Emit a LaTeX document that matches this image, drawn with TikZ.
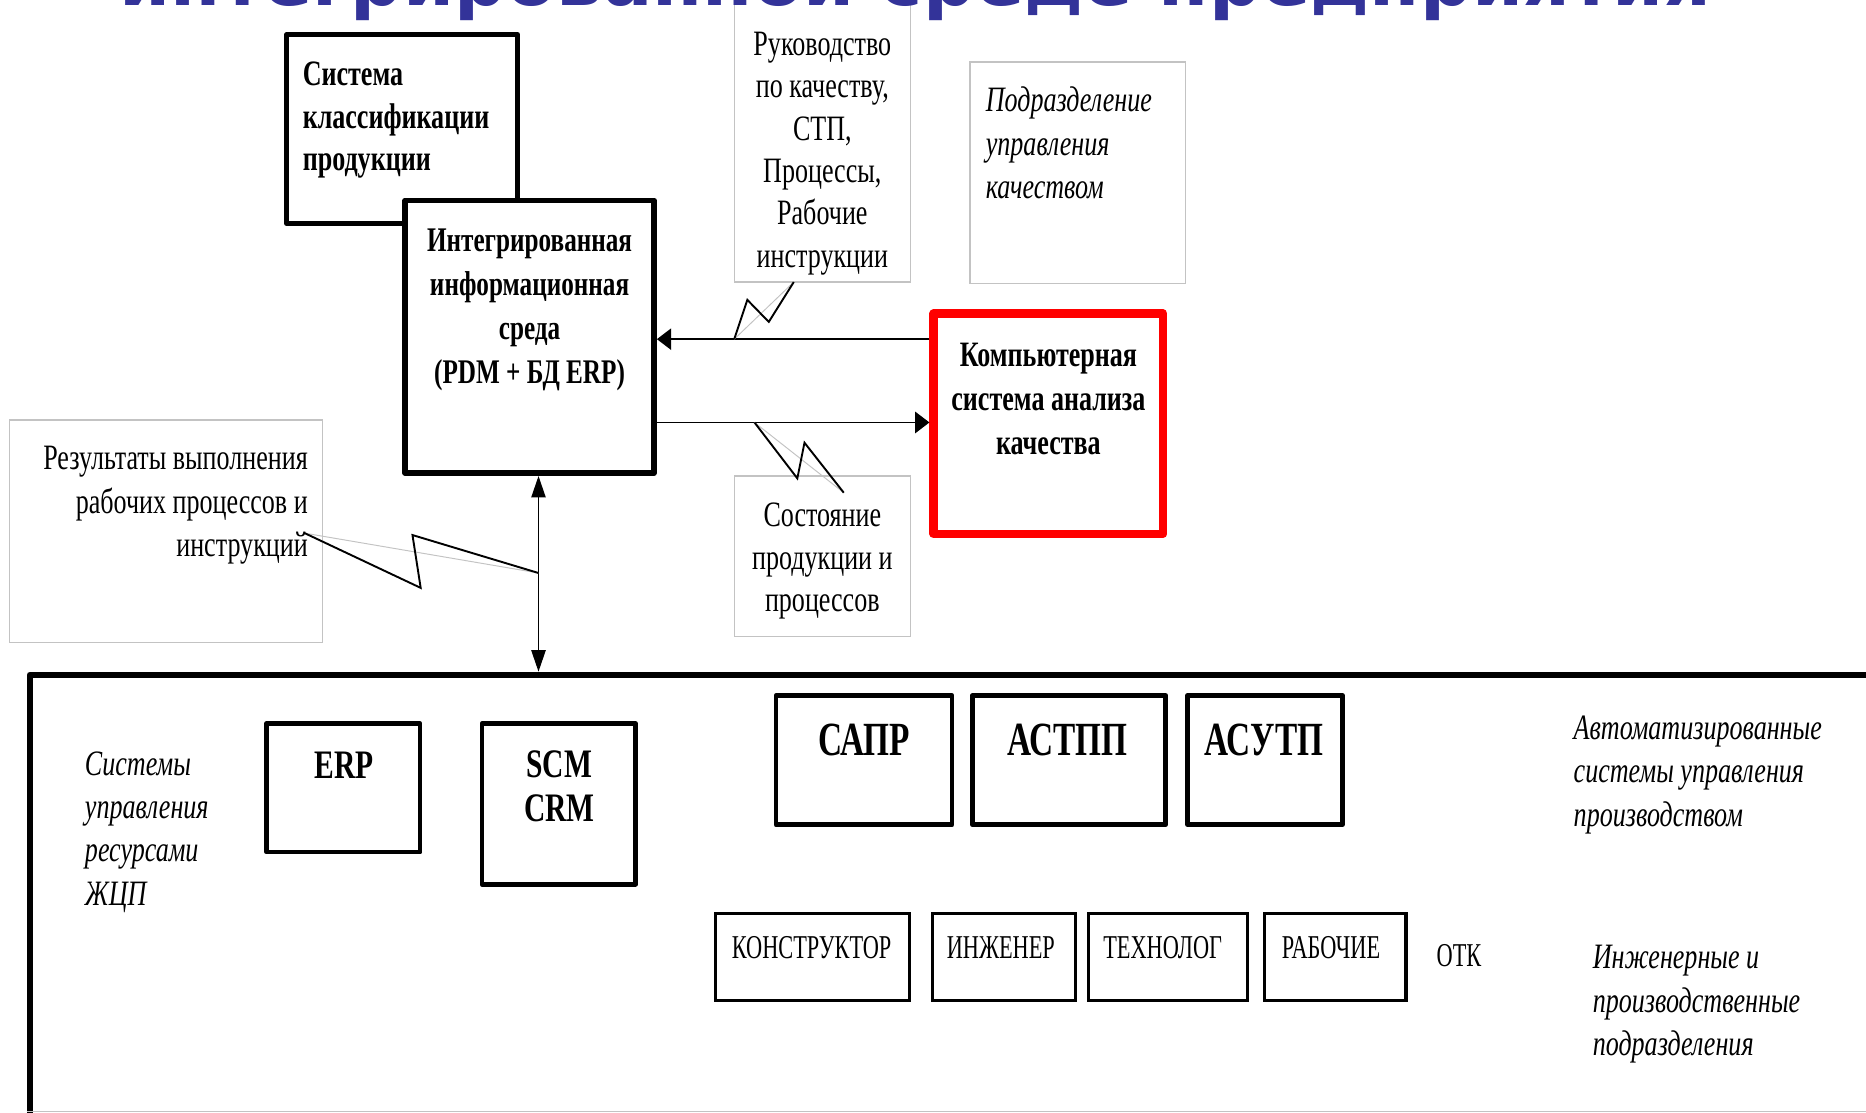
\documentclass[tikz,border=0pt]{standalone}
\usepackage{fontspec}
\setmainfont{Liberation Serif}
\newfontfamily\fR[FakeStretch=0.73]{Liberation Serif}
\newfontfamily\fC[FakeStretch=0.67]{Liberation Serif}
\newfontfamily\fB[FakeStretch=0.70]{Liberation Serif}
\newfontfamily\fT{DejaVu Sans}
\usetikzlibrary{arrows.meta}
\definecolor{titleblue}{RGB}{51,51,153}
\definecolor{lgray}{RGB}{195,195,195}
\definecolor{qred}{RGB}{255,0,0}
\tikzset{
  box/.style={draw=black, fill=white, line width=2pt, inner sep=0pt, line join=round},
  gbox/.style={draw=lgray, fill=white, line width=0.6pt, inner sep=0pt},
  sbox/.style={draw=black, fill=white, line width=1.4pt, inner sep=0pt},
  txt/.style={inner sep=0pt, font=\fR\fontsize{15pt}{18pt}\selectfont},
  btxt/.style={inner sep=0pt, font=\fR\bfseries\fontsize{15pt}{18.5pt}\selectfont},
  itxt/.style={inner sep=0pt, font=\fR\itshape\fontsize{15pt}{18.2pt}\selectfont},
  ctxt/.style={inner sep=0pt, font=\fC\fontsize{14pt}{16pt}\selectfont},
  bigtxt/.style={inner sep=0pt, font=\fB\bfseries\fontsize{20pt}{22pt}\selectfont},
  conn/.style={draw=black, line width=0.6pt},
  bolt/.style={draw=black, line width=0.8pt, line join=miter},
  boltbase/.style={draw=lgray, line width=0.4pt},
  htip/.style={-{Triangle[length=6pt,width=9pt]}},
  vtips/.style={{Triangle[length=9pt,width=6pt]}-{Triangle[length=9pt,width=6pt]}},
}
\begin{document}
\begin{tikzpicture}[x=0.5pt,y=-0.5pt]
\useasboundingbox (0,0) rectangle (1568,935);
\clip (0,0) rectangle (1568,935);
\fill[white] (0,0) rectangle (1568,935);

% big frame
\node[box, line width=2.6pt, minimum width=797.5pt, minimum height=211.5pt] (big) at (822.5,778.5) {};
\draw[draw=lgray, line width=0.6pt] (big.west |- 0,934) -- (1568,934);

% top boxes
\node[box, minimum width=97pt, minimum height=79.5pt] (sys) at (338,108.5) {};
\node[box, line width=2.5pt, minimum width=104.5pt, minimum height=114.5pt] (ies) at (445,283) {};
\node[gbox, minimum width=74pt, minimum height=128.5pt] (ruk) at (691,108.5) {};
\node[gbox, minimum width=90.5pt, minimum height=93pt] (pod) at (905.5,145) {};
\node[box, draw=qred, line width=3.5pt, minimum width=96.5pt, minimum height=92.5pt] (kom) at (881,356) {};
\node[gbox, minimum width=74pt, minimum height=67.5pt] (sos) at (691,467.5) {};
\node[gbox, minimum width=131.5pt, minimum height=93.5pt] (res) at (139.5,446.5) {};

% lower boxes
\node[box, minimum width=64.5pt, minimum height=54pt] (erp) at (288.5,662) {};
\node[box, minimum width=64.5pt, minimum height=67.5pt] (scm) at (469.5,675.5) {};
\node[box, minimum width=74pt, minimum height=54.25pt] (sapr) at (726,638.75) {};
\node[box, minimum width=81.3pt, minimum height=54.25pt] (astpp) at (898.3,638.75) {};
\node[box, minimum width=65pt, minimum height=54.25pt] (asutp) at (1063,638.75) {};
\node[sbox, minimum width=81.5pt, minimum height=36.5pt] (kon) at (683,804) {};
\node[sbox, minimum width=60.25pt, minimum height=36.5pt] (inzh) at (843.75,804) {};
\node[sbox, minimum width=67pt, minimum height=36.5pt] (teh) at (981.5,804) {};
\node[sbox, minimum width=59.5pt, minimum height=36.5pt] (rab) at (1122,804) {};

% arrows
\coordinate (yU) at (0,285);
\coordinate (yL) at (0,355);
\coordinate (xV) at (452.5,0);
\draw[conn, htip] (kom.west |- yU) -- (ies.east |- yU);
\draw[conn, htip] (ies.east |- yL) -- (kom.west |- yL);
\draw[conn, vtips] (ies.south -| xV) -- (big.north -| xV);

% lightning callouts
\coordinate (b1s) at (617,285);
\coordinate (b1e) at (667,237);
\draw[boltbase] (b1s) -- (b1e);
\draw[bolt] (b1s) -- (628,252) -- (646,270.5) -- (b1e);
\coordinate (b2s) at (634,355);
\coordinate (b2e) at (709,414);
\draw[boltbase] (b2s) -- (b2e);
\draw[bolt] (b2s) -- (670,402) -- (676,372) -- (b2e);
\coordinate (b3s) at (256,448);
\coordinate (b3e) at (452.5,481.5);
\draw[boltbase] (b3s) -- (b3e);
\draw[bolt] (b3s) -- (353.5,494) -- (346.6,449.6) -- (b3e);

% texts
\node[btxt, anchor=west, align=left, font=\fR\bfseries\fontsize{15pt}{18pt}\selectfont] (systxt) at (254,101) {Система\\классификации\\продукции};
\node[btxt, align=center, font=\fR\bfseries\fontsize{14.5pt}{18.5pt}\selectfont] (iestxt) at (445,260.5) {Интегрированная\\информационная\\среда\\(PDM + БД ERP)};
\node[txt, align=center, font=\fR\fontsize{15pt}{17.8pt}\selectfont] (ruktxt) at (691,129) {Руководство\\по качеству,\\СТП,\\Процессы,\\Рабочие\\инструкции};
\node[itxt, anchor=west, align=left] (podtxt) at (828,120) {Подразделение\\управления\\качеством};
\node[btxt, align=center] (komtxt) at (881,335.5) {Компьютерная\\система анализа\\качества};
\node[txt, align=center] (sostxt) at (691,471.5) {Состояние\\продукции и\\процессов};
\node[txt, anchor=east, align=right, font=\fR\fontsize{15pt}{18.2pt}\selectfont] (restxt) at (259,424.5) {Результаты выполнения\\рабочих процессов и\\инструкций};
\node[itxt, anchor=west, align=left] (sysrtxt) at (71,699) {Системы\\управления\\ресурсами\\ЖЦП};
\node[btxt, font=\fR\bfseries\fontsize{17pt}{18pt}\selectfont] (erptxt) at (289,643) {ERP};
\node[btxt, align=center, font=\fR\bfseries\fontsize{17pt}{18.5pt}\selectfont] (scmtxt) at (470,660.5) {SCM\\CRM};
\node[bigtxt] (saprtxt) at (726,622) {САПР};
\node[bigtxt] (astpptxt) at (897,622) {АСТПП};
\node[bigtxt] (asutptxt) at (1062,622) {АСУТП};
\node[itxt, anchor=west, align=left] (avttxt) at (1322,651) {Автоматизированные\\системы управления\\производством};
\node[ctxt] (kontxt) at (682,796) {КОНСТРУКТОР};
\node[ctxt] (inzhtxt) at (841,796) {ИНЖЕНЕР};
\node[ctxt] (tehtxt) at (977,796) {ТЕХНОЛОГ};
\node[ctxt] (rabtxt) at (1118.5,796) {РАБОЧИЕ};
\node[ctxt] (otktxt) at (1226,803) {ОТК};
\node[itxt, anchor=west, align=left] (inztxt) at (1338,844) {Инженерные и\\производственные\\подразделения};

% title (cut by the top edge, as in the reference)
\node[anchor=base west, inner sep=0pt, text=titleblue, font=\fT\bfseries] (title) at (100,5) {\resizebox{668.5pt}{!}{интегрированной среде предприятия}};
\end{tikzpicture}
\end{document}
